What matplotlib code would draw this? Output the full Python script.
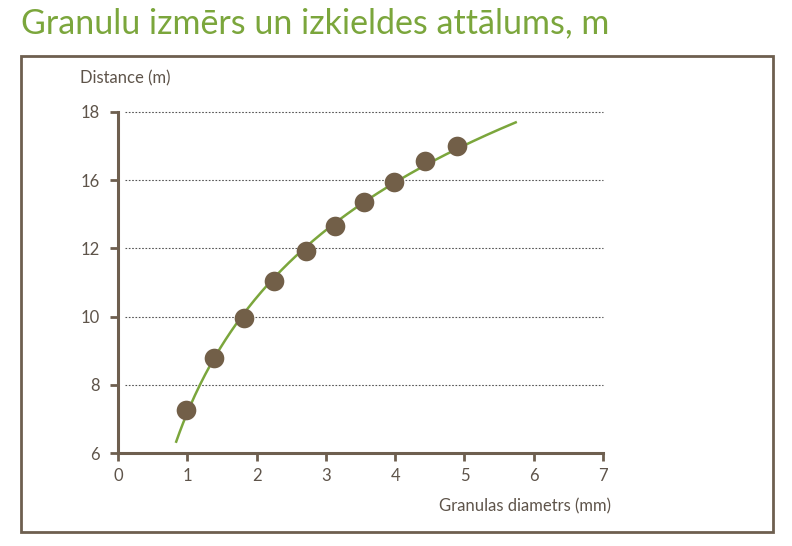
import numpy as np
import matplotlib
matplotlib.use("Agg")
import matplotlib.pyplot as plt
from matplotlib.patches import Rectangle

# granule diameter (mm) vs throw distance
diam = [0.98, 1.39, 1.82, 2.25, 2.71, 3.13, 3.55, 3.99, 4.43, 4.89]
dist = [7.26, 8.79, 9.96, 11.04, 11.92, 12.67, 13.37, 13.96, 14.55, 14.99]
trend_range = [0.84, 5.74]

x_ticks = [0, 1, 2, 3, 4, 5, 6, 7]
y_ticks = [6, 8, 10, 12, 14, 16]
y_labels = ['6', '8', '10', '12', '16', '18']

brown = '#6e5f4f'
dot = '#725f48'
green = '#7ba63c'
text_c = '#5e544a'

plt.rcParams['font.family'] = ['Lato', 'DejaVu Sans']

fig = plt.figure(figsize=(7.92, 5.46), dpi=100)
fig.patch.set_facecolor('white')

fig.text(21 / 792, 1 - 23 / 546, 'Granulu izmērs un izkieldes attālums, m',
         color=green, fontsize=24.5, va='center', ha='left')

fig.patches.append(Rectangle((21 / 792, 1 - 532 / 546), (773 - 21) / 792, (532 - 56) / 546,
                             transform=fig.transFigure, fill=False,
                             edgecolor=brown, linewidth=2))

ax = fig.add_axes([118 / 792, 1 - 453 / 546, (603 - 118) / 792, (453 - 112) / 546])
ax.set_xlim(0, 7)
ax.set_ylim(6, 16)

# logarithmic trend line fitted through the points
coef = np.polyfit(np.log(diam), dist, 1)
xs = np.linspace(trend_range[0], trend_range[1], 200)
ax.plot(xs, np.polyval(coef, np.log(xs)), color=green, lw=1.8, zorder=3)
ax.scatter(diam, dist, s=200, color=dot, zorder=4, linewidths=0)

for y in y_ticks[1:]:
    ax.plot([0.1, 7], [y, y], ls=(0, (1.5, 1.5)), color='#555555', lw=0.8,
            zorder=1, clip_on=False)

for s in ['top', 'right']:
    ax.spines[s].set_visible(False)
for s in ['left', 'bottom']:
    ax.spines[s].set_color(brown)
    ax.spines[s].set_linewidth(2.2)

ax.set_xticks(x_ticks)
ax.set_yticks(y_ticks)
ax.set_yticklabels(y_labels)
ax.tick_params(colors=brown, width=2, length=6, labelsize=12, labelcolor=text_c)
ax.tick_params(axis='y', pad=7)
ax.tick_params(axis='x', pad=5)

fig.text(80 / 792, 1 - 78 / 546, 'Distance (m)', color=text_c, fontsize=12,
         va='center', ha='left')
fig.text(611 / 792, 1 - 506 / 546, 'Granulas diametrs (mm)', color=text_c,
         fontsize=12, va='center', ha='right')

fig.savefig('out.png', dpi=100)
